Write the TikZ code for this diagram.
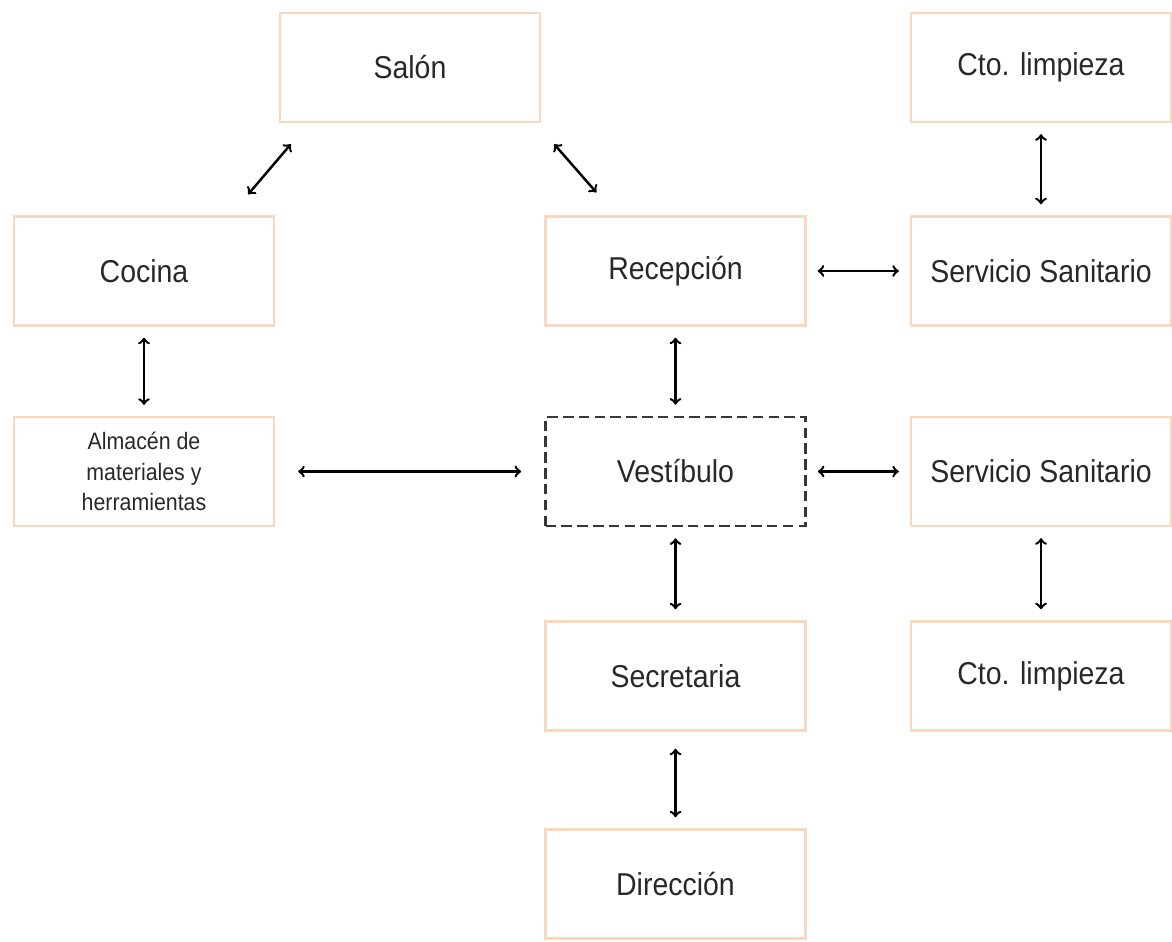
\documentclass[tikz,border=0pt]{standalone}
\usepackage{fontspec}
\setmainfont{Liberation Sans}[FakeStretch=0.9]
\usepackage{tikz}

\definecolor{boxline}{RGB}{248,216,190}
\definecolor{dashline}{RGB}{55,55,55}
\definecolor{roomtext}{RGB}{40,40,40}

\begin{document}
\begin{tikzpicture}[x=0.02cm, y=-0.02cm,
    room/.style={draw=boxline, line width=1.3pt, minimum width=5.2cm,
        minimum height=2.18cm, inner sep=0pt, text=roomtext,
        font=\fontsize{18}{21}\selectfont},
    link/.style={<->, line width=1.4pt, shorten >=0.22cm, shorten <=0.22cm}]
    \useasboundingbox (0,0) rectangle (1172,942);

    % Rooms
    \node[room] (salon) at (410,67.5) {Salón};
    \node[room] (limpieza1) at (1041,67.5) {Cto. limpieza};
    \node[room] (cocina) at (144,271) {Cocina};
    \node[room] (recepcion) at (675.5,271) {Recepción};
    \node[room] (sanitario1) at (1041,271) {Servicio Sanitario};
    \node[room, align=center, font=\fontsize{13.5}{17.5}\selectfont]
        (almacen) at (144,471.5) {Almacén de\\materiales y\\herramientas};
    \node[room, draw=dashline, line width=1.5pt, dash pattern=on 6pt off 3pt]
        (vestibulo) at (675.5,471.5) {Vestíbulo};
    \node[room] (sanitario2) at (1041,471.5) {Servicio Sanitario};
    \node[room] (secretaria) at (675.5,676) {Secretaria};
    \node[room] (limpieza2) at (1041,676) {Cto. limpieza};
    \node[room] (direccion) at (675.5,884) {Dirección};

    % Links
    \draw[<->, line width=1.4pt] ([shift={(12,21)}]salon.south west)
        -- ([shift={(-27,-21)}]cocina.north east);
    \draw[<->, line width=1.4pt] ([shift={(13,21)}]salon.south east)
        -- ([shift={(52,-23)}]recepcion.north west);
    \draw[link] (limpieza1) -- (sanitario1);
    \draw[link] (recepcion) -- (sanitario1);
    \draw[link] (cocina) -- (almacen);
    \draw[link] (recepcion) -- (vestibulo);
    \draw[link, shorten >=0.46cm, shorten <=0.46cm] (almacen) -- (vestibulo);
    \draw[link] (vestibulo) -- (sanitario2);
    \draw[link] (vestibulo) -- (secretaria);
    \draw[link] (sanitario2) -- (limpieza2);
    \draw[link, shorten <=0.34cm] (secretaria) -- (direccion);
\end{tikzpicture}
\end{document}
